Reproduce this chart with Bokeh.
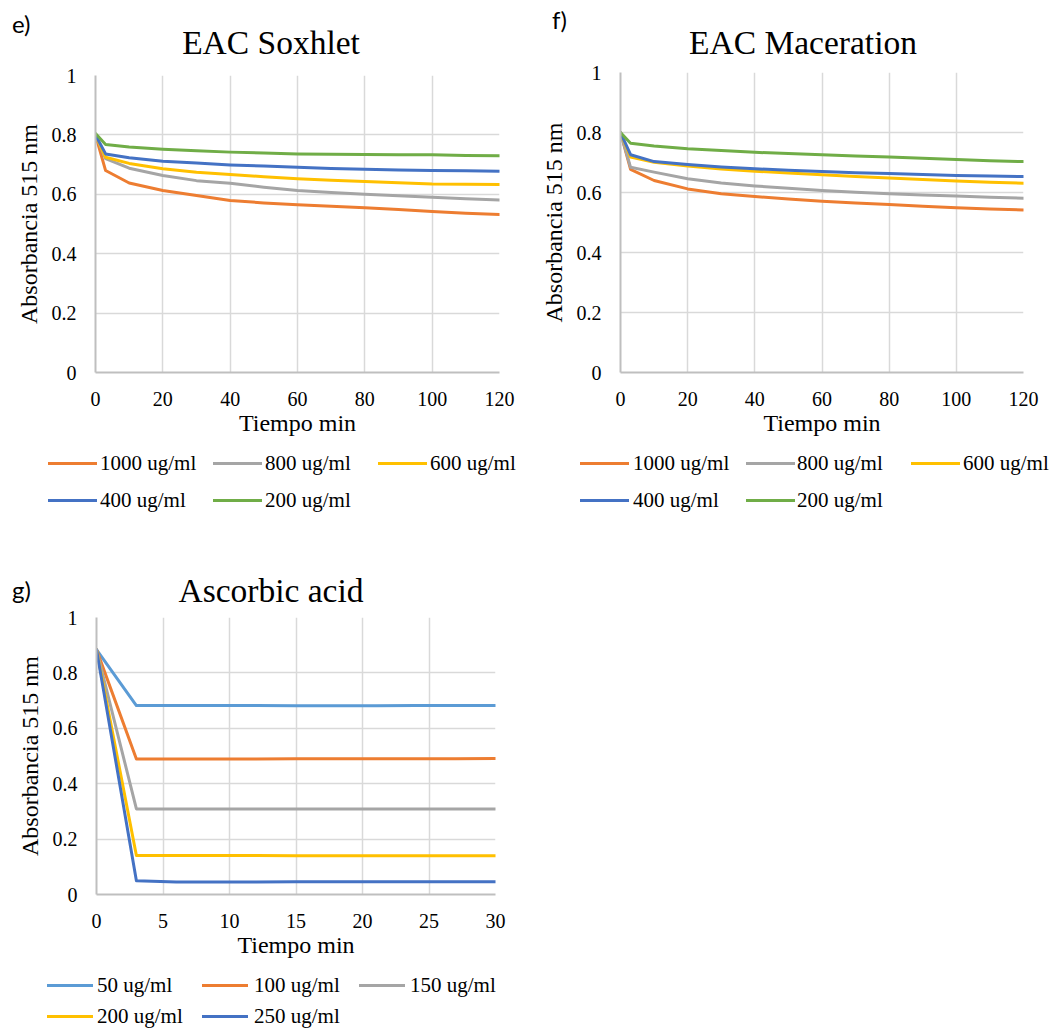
from bokeh.plotting import figure
from bokeh.models import Range1d, FixedTicker, Div
from bokeh.layouts import column, row
from bokeh.embed import file_html
from bokeh.resources import INLINE

# ---------------- data ----------------
time_ext = [0, 3, 10, 20, 30, 40, 50, 60, 70, 80, 90, 100, 110, 120]
labels_ext = ["1000 ug/ml", "800 ug/ml", "600 ug/ml", "400 ug/ml", "200 ug/ml"]

sox_1000 = [0.80, 0.680, 0.638, 0.613, 0.596, 0.579, 0.571, 0.565, 0.560, 0.555, 0.549, 0.542, 0.536, 0.532]
sox_800 = [0.80, 0.720, 0.688, 0.663, 0.646, 0.637, 0.624, 0.613, 0.606, 0.600, 0.595, 0.590, 0.585, 0.581]
sox_600 = [0.80, 0.725, 0.704, 0.686, 0.674, 0.667, 0.659, 0.652, 0.647, 0.643, 0.639, 0.635, 0.634, 0.633]
sox_400 = [0.80, 0.736, 0.723, 0.711, 0.705, 0.699, 0.695, 0.691, 0.687, 0.684, 0.682, 0.680, 0.679, 0.678]
sox_200 = [0.805, 0.768, 0.759, 0.752, 0.747, 0.742, 0.739, 0.736, 0.735, 0.734, 0.733, 0.733, 0.731, 0.730]

mac_1000 = [0.80, 0.677, 0.640, 0.612, 0.596, 0.587, 0.578, 0.571, 0.565, 0.560, 0.554, 0.549, 0.545, 0.542]
mac_800 = [0.80, 0.684, 0.668, 0.646, 0.632, 0.622, 0.614, 0.607, 0.601, 0.596, 0.592, 0.588, 0.584, 0.581]
mac_600 = [0.80, 0.718, 0.701, 0.688, 0.678, 0.671, 0.665, 0.659, 0.653, 0.648, 0.643, 0.638, 0.634, 0.631]
mac_400 = [0.80, 0.726, 0.703, 0.693, 0.685, 0.679, 0.674, 0.670, 0.666, 0.663, 0.660, 0.657, 0.655, 0.653]
mac_200 = [0.80, 0.764, 0.755, 0.746, 0.740, 0.734, 0.730, 0.726, 0.722, 0.718, 0.714, 0.710, 0.706, 0.703]

time_aa = [0, 3, 6, 9, 12, 15, 18, 21, 24, 27, 30]
labels_aa = ["50 ug/ml", "100 ug/ml", "150 ug/ml", "200 ug/ml", "250 ug/ml"]
aa_50 = [0.884, 0.682, 0.682, 0.682, 0.682, 0.681, 0.681, 0.681, 0.682, 0.682, 0.682]
aa_100 = [0.884, 0.489, 0.489, 0.489, 0.489, 0.490, 0.490, 0.490, 0.490, 0.490, 0.491]
aa_150 = [0.884, 0.309, 0.309, 0.309, 0.309, 0.309, 0.309, 0.309, 0.309, 0.309, 0.309]
aa_200 = [0.884, 0.141, 0.141, 0.141, 0.141, 0.140, 0.140, 0.140, 0.140, 0.140, 0.140]
aa_250 = [0.884, 0.050, 0.045, 0.045, 0.045, 0.046, 0.046, 0.046, 0.046, 0.046, 0.046]

y_ticks = [0, 0.2, 0.4, 0.6, 0.8, 1]
y_tick_labels = ["0", "0.2", "0.4", "0.6", "0.8", "1"]
x_ticks_ext = [0, 20, 40, 60, 80, 100, 120]
x_ticks_aa = [0, 5, 10, 15, 20, 25, 30]

colors_ext = ["#ED7D31", "#A5A5A5", "#FFC000", "#4472C4", "#70AD47"]
colors_aa = ["#5B9BD5", "#ED7D31", "#A5A5A5", "#FFC000", "#4472C4"]

SERIF = "Liberation Serif"
SANS = "Lato"
W = 528
TAG_PX = 24
TITLE_PX = 33.5


def header(height, tag, tag_x, tag_base, title, title_x, title_base):
    tag_top = tag_base - 0.987 * TAG_PX
    title_top = title_base - 0.891 * TITLE_PX
    html = (
        f'<div style="position:relative;width:{W}px;height:{height}px;">'
        f'<span style="position:absolute;left:{tag_x}px;top:{tag_top:.1f}px;'
        f'font-family:\'{SANS}\';font-size:{TAG_PX}px;line-height:{1.2 * TAG_PX:.1f}px;'
        f'color:black;white-space:nowrap;">{tag}</span>'
        f'<span style="position:absolute;left:{title_x}px;top:{title_top:.1f}px;'
        f'transform:translateX(-50%);font-family:\'{SERIF}\';font-size:{TITLE_PX}px;'
        f'line-height:{1.107 * TITLE_PX:.1f}px;color:black;white-space:nowrap;">{title}</span>'
        f'</div>'
    )
    return Div(text=html, width=W, height=height, margin=0)


def legend_div(height, names, colors, line_x, line_w, text_x, row_y):
    parts = [f'<div style="position:relative;width:{W}px;height:{height}px;">']
    for i, (name, col) in enumerate(zip(names, colors)):
        c, r = i % 3, i // 3
        yc = row_y[r]
        parts.append(
            f'<span style="position:absolute;left:{line_x[c]}px;top:{yc - 1.5}px;'
            f'width:{line_w}px;height:3px;background:{col};"></span>')
        parts.append(
            f'<span style="position:absolute;left:{text_x[c]}px;top:{yc - 12}px;'
            f'font-family:\'{SERIF}\';font-size:21px;line-height:24px;color:black;'
            f'white-space:nowrap;">{name}</span>')
    parts.append('</div>')
    return Div(text="".join(parts), width=W, height=height, margin=0)


def chart(height, bl, br, bt, bb, x_end, x_ticks, times, series, colors):
    p = figure(width=W, height=height,
               x_range=Range1d(0, x_end), y_range=Range1d(0, 1),
               output_backend="svg", toolbar_location=None,
               min_border_left=bl, min_border_right=br,
               min_border_top=bt, min_border_bottom=bb)
    p.outline_line_color = None
    p.background_fill_color = "white"
    p.border_fill_color = "white"

    for ax in (p.xaxis[0], p.yaxis[0]):
        ax.major_tick_out = 0
        ax.major_tick_in = 0
        ax.minor_tick_out = 0
        ax.minor_tick_in = 0
        ax.axis_line_color = "#BFBFBF"
        ax.axis_line_width = 2
        ax.major_label_text_font = SERIF
        ax.major_label_text_font_size = "20px"
        ax.major_label_text_color = "black"
        ax.axis_label_text_font = SERIF
        ax.axis_label_text_font_size = "24px"
        ax.axis_label_text_font_style = "normal"
        ax.axis_label_text_color = "black"

    p.xaxis.ticker = FixedTicker(ticks=x_ticks)
    p.yaxis.ticker = FixedTicker(ticks=y_ticks)
    p.yaxis.major_label_overrides = {t: s for t, s in zip(y_ticks, y_tick_labels)}
    p.xaxis.axis_label = "Tiempo min"
    p.yaxis.axis_label = "Absorbancia 515 nm"
    p.xaxis.major_label_standoff = 19
    p.yaxis.major_label_standoff = 19
    p.xaxis.axis_label_standoff = 1
    p.yaxis.axis_label_standoff = 7

    p.xgrid.ticker = FixedTicker(ticks=x_ticks)
    p.ygrid.ticker = FixedTicker(ticks=y_ticks)
    for g in (p.xgrid[0], p.ygrid[0]):
        g.grid_line_color = "#D9D9D9"
        g.grid_line_width = 1.5

    for vals, col in zip(series, colors):
        p.line(times, vals, line_color=col, line_width=3,
               line_join="round", line_cap="round")
    return p


# ---- panel e (page x 0..528): frame 95..499 x 75..372
he = header(62, "e)", 12, 34, "EAC Soxhlet", 271, 54)
ce = chart(388, 95, 29, 13, 78, 120, x_ticks_ext, time_ext,
           [sox_1000, sox_800, sox_600, sox_400, sox_200], colors_ext)
le = legend_div(110, labels_ext, colors_ext, [48, 213, 378], 49, [100, 265, 430], [13, 50])

# ---- panel f (page x 528..1056): frame 620..1023 x 72..372
hf = header(62, "f)", 24, 30, "EAC Maceration", 275, 54)
cf = chart(388, 92, 33, 10, 78, 120, x_ticks_ext, time_ext,
           [mac_1000, mac_800, mac_600, mac_400, mac_200], colors_ext)
lf = legend_div(110, labels_ext, colors_ext, [52, 218, 383], 49, [105, 269, 435], [13, 50])

# ---- panel g (page y 560..1028): frame 96..495 x 617..894
hg = header(44, "g)", 12, 40, "Ascorbic acid", 271, 42)
cg = chart(368, 96, 33, 13, 78, 30, x_ticks_aa, time_aa,
           [aa_50, aa_100, aa_150, aa_200, aa_250], colors_aa)
lg = legend_div(56, labels_aa, colors_aa, [47, 202, 359], 46, [97, 254, 410], [13, 44])

layout = column(row(column(he, ce, le), column(hf, cf, lf)), column(hg, cg, lg))
open("out.html", "w").write(file_html(layout, INLINE))
